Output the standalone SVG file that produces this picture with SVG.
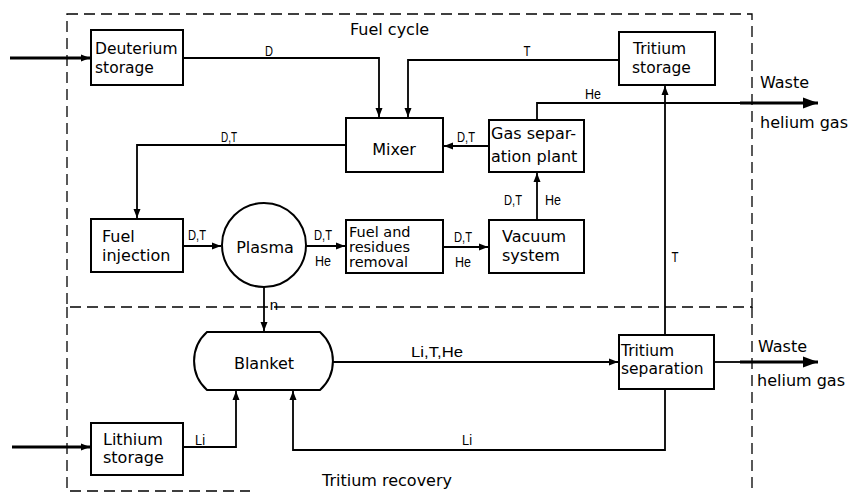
<svg xmlns="http://www.w3.org/2000/svg" width="850" height="493" viewBox="0 0 850 493">
<style>
.box{fill:#fff;stroke:#000;stroke-width:2}
.dash{fill:none;stroke:#000;stroke-width:1.3;stroke-dasharray:11 6}
.ln{fill:none;stroke:#000;stroke-width:1.8}
.thk{fill:none;stroke:#000;stroke-width:3}
.t{font-family:"DejaVu Sans",sans-serif;font-size:16px;fill:#000}
.m{font-size:15.5px}
.s{font-size:14.5px}
.lb{font-family:"Liberation Sans",sans-serif;font-size:15px;fill:#000}
</style>
<defs>
<marker id="a" markerUnits="userSpaceOnUse" markerWidth="10" markerHeight="8" refX="9" refY="4" orient="auto"><path d="M0,0.5 L9,4 L0,7.5 Z" fill="#000"/></marker>
<marker id="b" markerUnits="userSpaceOnUse" markerWidth="16" markerHeight="12" refX="15" refY="6" orient="auto"><path d="M0,0.5 L15,6 L0,11.5 Z" fill="#000"/></marker>
</defs>
<g id="regions">
<rect class="dash" x="67" y="14" width="685" height="293"/>
<path class="dash" d="M67,307 V491 H250"/>
<path class="dash" d="M752,307 V490"/>
<text class="t" x="350" y="35">Fuel cycle</text>
<text class="t" x="322" y="486">Tritium recovery</text>
</g>
<g id="connectors">
<path class="thk" d="M10,58 H90" marker-end="url(#a)"/>
<path class="ln" d="M183,58 H379 V117" marker-end="url(#a)"/>
<path class="ln" d="M619,60 H408 V117" marker-end="url(#a)"/>
<path class="ln" d="M346,145 H137 V218" marker-end="url(#a)"/>
<path class="ln" d="M489,146 H444" marker-end="url(#a)"/>
<path class="ln" d="M537,120 V103 H745"/>
<path class="thk" d="M740,103 H818" marker-end="url(#b)"/>
<path class="ln" d="M665,335 V86" marker-end="url(#a)"/>
<path class="ln" d="M183,246 H221" marker-end="url(#a)"/>
<path class="ln" d="M306,246 H345" marker-end="url(#a)"/>
<path class="ln" d="M443,247 H488" marker-end="url(#a)"/>
<path class="ln" d="M537,220 V173" marker-end="url(#a)"/>
<path class="ln" d="M264,287 V331" marker-end="url(#a)"/>
<path class="ln" d="M333,362 H618" marker-end="url(#a)"/>
<path class="ln" d="M714,362 H745"/>
<path class="thk" d="M740,362 H818" marker-end="url(#b)"/>
<path class="ln" d="M665,388 V450 H293 V391" marker-end="url(#a)"/>
<path class="ln" d="M183,447 H236 V391" marker-end="url(#a)"/>
<path class="thk" d="M12,447 H90" marker-end="url(#a)"/>
<text class="lb" x="269" y="56" text-anchor="middle" textLength="8" lengthAdjust="spacingAndGlyphs">D</text>
<text class="lb" x="527" y="56" text-anchor="middle" textLength="7" lengthAdjust="spacingAndGlyphs">T</text>
<text class="lb" x="229" y="142" text-anchor="middle" textLength="16" lengthAdjust="spacingAndGlyphs">D,T</text>
<text class="lb" x="593" y="99" text-anchor="middle" textLength="16" lengthAdjust="spacingAndGlyphs">He</text>
<text class="lb" x="466" y="142" text-anchor="middle" textLength="18" lengthAdjust="spacingAndGlyphs">D,T</text>
<text class="lb" x="197" y="240" text-anchor="middle" textLength="18" lengthAdjust="spacingAndGlyphs">D,T</text>
<text class="lb" x="323" y="240" text-anchor="middle" textLength="18" lengthAdjust="spacingAndGlyphs">D,T</text>
<text class="lb" x="323" y="266" text-anchor="middle" textLength="16" lengthAdjust="spacingAndGlyphs">He</text>
<text class="lb" x="463" y="242" text-anchor="middle" textLength="18" lengthAdjust="spacingAndGlyphs">D,T</text>
<text class="lb" x="463" y="267" text-anchor="middle" textLength="16" lengthAdjust="spacingAndGlyphs">He</text>
<text class="lb" x="513" y="205" text-anchor="middle" textLength="18" lengthAdjust="spacingAndGlyphs">D,T</text>
<text class="lb" x="553" y="205" text-anchor="middle" textLength="16" lengthAdjust="spacingAndGlyphs">He</text>
<text class="lb" x="675" y="262" text-anchor="middle" textLength="7" lengthAdjust="spacingAndGlyphs">T</text>
<text class="lb" x="274" y="310" text-anchor="middle">n</text>
<text class="lb" x="437" y="357" text-anchor="middle" textLength="52" lengthAdjust="spacingAndGlyphs">Li,T,He</text>
<text class="lb" x="467" y="445" text-anchor="middle" textLength="10" lengthAdjust="spacingAndGlyphs">Li</text>
<text class="lb" x="200" y="445" text-anchor="middle" textLength="10" lengthAdjust="spacingAndGlyphs">Li</text>
<text class="t" x="760" y="88">Waste</text>
<text class="t" x="760" y="128" textLength="88" lengthAdjust="spacingAndGlyphs">helium gas</text>
<text class="t" x="758" y="352">Waste</text>
<text class="t" x="757" y="386" textLength="88" lengthAdjust="spacingAndGlyphs">helium gas</text>
</g>
<g id="deuterium-storage">
<rect class="box" x="91" y="30" width="92" height="55"/>
<text class="t m" x="95" y="54">Deuterium</text>
<text class="t m" x="95" y="73">storage</text>
</g>
<g id="tritium-storage">
<rect class="box" x="619" y="32" width="96" height="53"/>
<text class="t m" x="633" y="54">Tritium</text>
<text class="t m" x="632" y="73">storage</text>
</g>
<g id="mixer">
<rect class="box" x="346" y="118" width="97" height="54"/>
<text class="t" x="394" y="155" text-anchor="middle">Mixer</text>
</g>
<g id="gas-separation-plant">
<rect class="box" x="489" y="120" width="95" height="52"/>
<text class="t" x="491" y="139">Gas separ-</text>
<text class="t" x="491" y="162">ation plant</text>
</g>
<g id="fuel-injection">
<rect class="box" x="91" y="219" width="92" height="53"/>
<text class="t" x="102" y="242">Fuel</text>
<text class="t" x="102" y="261">injection</text>
</g>
<g id="plasma">
<circle class="box" cx="264" cy="245" r="42"/>
<text class="t" x="265" y="253" text-anchor="middle">Plasma</text>
</g>
<g id="fuel-residues-removal">
<rect class="box" x="346" y="220" width="97" height="53"/>
<text class="t s" x="349" y="237">Fuel and</text>
<text class="t s" x="349" y="252">residues</text>
<text class="t s" x="349" y="267">removal</text>
</g>
<g id="vacuum-system">
<rect class="box" x="489" y="220" width="95" height="53"/>
<text class="t" x="502" y="242">Vacuum</text>
<text class="t" x="502" y="261">system</text>
</g>
<g id="blanket">
<path class="box" d="M207,332 H320 A39,39 0 0 1 320,390 H207 A39,39 0 0 1 207,332 Z"/>
<text class="t" x="264" y="369" text-anchor="middle">Blanket</text>
</g>
<g id="tritium-separation">
<rect class="box" x="619" y="335" width="95" height="54"/>
<text class="t m" x="621" y="356">Tritium</text>
<text class="t m" x="621" y="374">separation</text>
</g>
<g id="lithium-storage">
<rect class="box" x="91" y="423" width="92" height="52"/>
<text class="t" x="103" y="445">Lithium</text>
<text class="t" x="103" y="463">storage</text>
</g>
</svg>
